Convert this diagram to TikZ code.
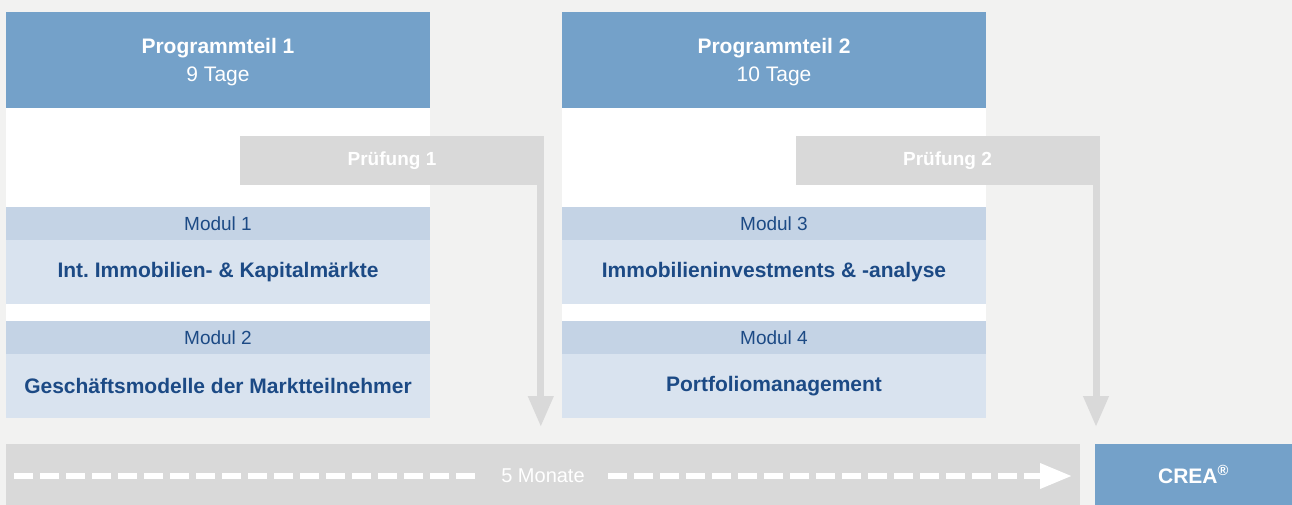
\documentclass[tikz,border=0pt]{standalone}
\usepackage{fontspec}
\setmainfont{Liberation Sans}
\usetikzlibrary{arrows.meta}
\frenchspacing
\definecolor{bg}{HTML}{F2F2F1}
\definecolor{hblue}{HTML}{74A1C9}
\definecolor{mhead}{HTML}{C4D3E5}
\definecolor{mbody}{HTML}{D9E3EF}
\definecolor{pgray}{HTML}{D9D9D9}
\definecolor{dblue}{HTML}{1C4A85}
\newcommand{\fsz}[2]{\fontsize{#1}{#2}\selectfont}
\tikzset{
  box/.style={anchor=north west, inner sep=0pt, outer sep=0pt},
  hdr/.style={box, fill=hblue, minimum width=424pt, minimum height=96pt},
  hdrtext/.style={text=white, align=center, inner sep=0pt, font=\fsz{21}{28}},
  panel/.style={box, fill=white, minimum width=424pt, minimum height=406pt},
  modhead/.style={box, fill=mhead, text=dblue, minimum width=424pt, minimum height=33pt, font=\fsz{19}{22}},
  modbody/.style={box, fill=mbody, text=dblue, minimum width=424pt, minimum height=64pt, font=\bfseries\fsz{21}{24}},
  pbar/.style={box, fill=pgray, text=white, minimum width=304pt, minimum height=49pt, font=\bfseries\fsz{19}{22}},
  downarrow/.style={draw=pgray, line width=7pt, -{Triangle[width=24pt,length=31pt]}},
  timeline/.style={draw=white, line width=6.5pt, dash pattern=on 19pt off 7pt},
}
\begin{document}
\begin{tikzpicture}[x=1pt,y=-1pt]
\useasboundingbox (0,0) rectangle (1292,505);
\fill[bg] (0,0) rectangle (1292,505);

% column 1
\node[panel] (pan1) at (6,12) {};
\node[hdr] (h1) at (6,12) {};
\node[hdrtext] (h1t) at ([yshift=-2pt]h1.center) {\textbf{Programmteil 1}\\9 Tage};
\node[modhead] (m1h) at (6,207) {Modul 1};
\node[modbody] (m1b) at (6,240) {Int. Immobilien- \& Kapitalmärkte};
\node[modhead] (m2h) at (6,321) {Modul 2};
\node[modbody] (m2b) at (6,354) {Geschäftsmodelle der Marktteilnehmer};

% column 2
\node[panel] (pan2) at (562,12) {};
\node[hdr] (h2) at (562,12) {};
\node[hdrtext] (h2t) at ([yshift=-2pt]h2.center) {\textbf{Programmteil 2}\\10 Tage};
\node[modhead] (m3h) at (562,207) {Modul 3};
\node[modbody] (m3b) at (562,240) {Immobilieninvestments \& -analyse};
\node[modhead] (m4h) at (562,321) {Modul 4};
\node[modbody] (m4b) at (562,354) {Portfoliomanagement};

% exams
\node[pbar] (p1) at (240,136) {Prüfung 1};
\coordinate (p1s) at (540.8,150);
\coordinate (p1t) at (540.8,427);
\draw[downarrow] (p1s) -- (p1t);

\node[pbar] (p2) at (795.5,136) {Prüfung 2};
\coordinate (p2s) at (1096,150);
\coordinate (p2t) at (1096,427);
\draw[downarrow] (p2s) -- (p2t);

% timeline
\node[box, fill=pgray, minimum width=1074pt, minimum height=61pt] (tl) at (6,444) {};
\node[text=white, font=\fsz{20}{24}, inner xsep=23pt, inner ysep=0pt] (mon) at (543,476) {5 Monate};
\coordinate (ts) at (14,476);
\coordinate (te) at (1072,476);
\draw[timeline] (ts) -- (mon.west);
\draw[timeline, -{Triangle[width=24pt,length=32pt]}] (mon.east) -- (te);

\node[box, fill=hblue, text=white, minimum width=197pt, minimum height=61pt, font=\bfseries\fsz{21}{24}] (crea) at (1095,444) {CREA\textsuperscript{®}};
\end{tikzpicture}
\end{document}
